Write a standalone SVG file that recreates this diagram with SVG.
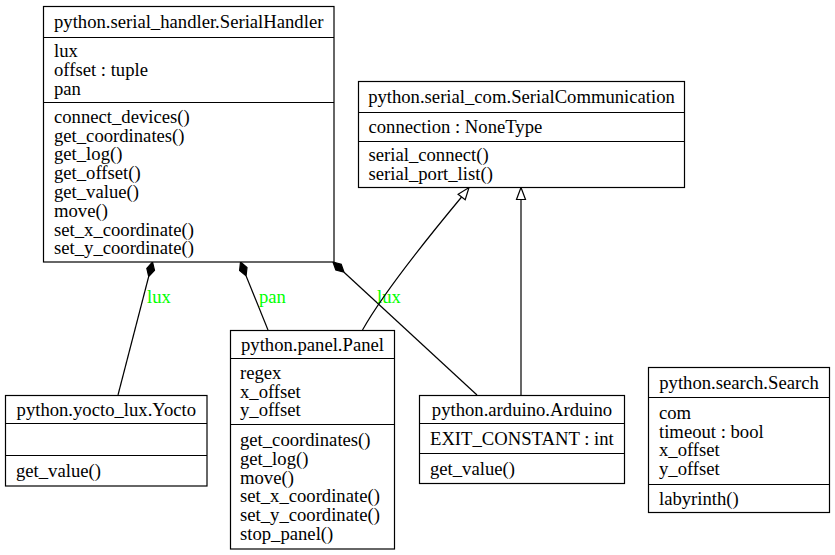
<svg xmlns="http://www.w3.org/2000/svg" width="835" height="555" viewBox="0 0 835 555">
<style>
  .box{fill:#fff;stroke:#000;stroke-width:1.2}
  .sep{stroke:#000;stroke-width:1.2}
  text{font-family:"Liberation Serif","Times New Roman",serif;font-size:18.67px;fill:#000}
  .h{text-anchor:middle}
  .lbl{fill:#00ff00}
  .edge{fill:none;stroke:#000;stroke-width:1.2}
  .dia{fill:#000;stroke:#000;stroke-width:1.2}
  .tri{fill:#fff;stroke:#000;stroke-width:1.2}
</style>
<rect width="835" height="555" fill="#fff"/>
<g id="connectors">
  <path class="edge" d="M148.7,276.5 L118,395"/>
  <polygon class="dia" points="152.5,262 154.5,270.3 148.7,276.5 146.8,268.3"/>
  <text class="lbl" x="147" y="303">lux</text>
  <path class="edge" d="M246.1,275.9 L268,330"/>
  <polygon class="dia" points="240.5,262 247,267.5 246.1,275.9 239.6,270.5"/>
  <text class="lbl" x="259" y="303">pan</text>
  <path class="edge" d="M344,272.2 L477,395"/>
  <polygon class="dia" points="333,262 341.2,264.2 344,272.2 335.8,270"/>
  <text class="lbl" x="377" y="303">lux</text>
  <path class="edge" d="M362.5,330 C385,290 430,235 461.6,197"/>
  <polygon class="tri" points="469,187.5 465.2,199.7 458.1,194.2"/>
  <path class="edge" d="M521,395 L521,199.5"/>
  <polygon class="tri" points="521,187.5 525.5,199.5 516.5,199.5"/>
</g>
<g id="SerialHandler">
  <rect class="box" x="43.5" y="6.5" width="290.5" height="255.5"/>
  <line class="sep" x1="43.5" y1="37.5" x2="334" y2="37.5"/>
  <line class="sep" x1="43.5" y1="102.5" x2="334" y2="102.5"/>
  <text class="h" x="188.7" y="28.2">python.serial_handler.SerialHandler</text>
  <text x="54" y="57.2">lux</text>
  <text x="54" y="76">offset : tuple</text>
  <text x="54" y="94.8">pan</text>
  <text x="54" y="122.7">connect_devices()</text>
  <text x="54" y="141.5">get_coordinates()</text>
  <text x="54" y="160.3">get_log()</text>
  <text x="54" y="179.1">get_offset()</text>
  <text x="54" y="197.9">get_value()</text>
  <text x="54" y="216.7">move()</text>
  <text x="54" y="235.5">set_x_coordinate()</text>
  <text x="54" y="254.3">set_y_coordinate()</text>
</g>
<g id="SerialCommunication">
  <rect class="box" x="358.5" y="81.5" width="326" height="106"/>
  <line class="sep" x1="358.5" y1="112.5" x2="684.5" y2="112.5"/>
  <line class="sep" x1="358.5" y1="141.5" x2="684.5" y2="141.5"/>
  <text class="h" x="521.5" y="103">python.serial_com.SerialCommunication</text>
  <text x="368.5" y="133">connection : NoneType</text>
  <text x="368.5" y="161.1">serial_connect()</text>
  <text x="368.5" y="179.9">serial_port_list()</text>
</g>
<g id="Yocto">
  <rect class="box" x="5.5" y="395.5" width="201.5" height="90.5"/>
  <line class="sep" x1="5.5" y1="423.5" x2="207" y2="423.5"/>
  <line class="sep" x1="5.5" y1="455.5" x2="207" y2="455.5"/>
  <text class="h" x="106.3" y="416">python.yocto_lux.Yocto</text>
  <text x="16" y="477">get_value()</text>
</g>
<g id="Panel">
  <rect class="box" x="230.5" y="330.5" width="164" height="218.5"/>
  <line class="sep" x1="230.5" y1="358.5" x2="394.5" y2="358.5"/>
  <line class="sep" x1="230.5" y1="424.5" x2="394.5" y2="424.5"/>
  <text class="h" x="312.5" y="351">python.panel.Panel</text>
  <text x="240" y="378.7">regex</text>
  <text x="240" y="397.5">x_offset</text>
  <text x="240" y="416.3">y_offset</text>
  <text x="240" y="446">get_coordinates()</text>
  <text x="240" y="464.8">get_log()</text>
  <text x="240" y="483.6">move()</text>
  <text x="240" y="502.4">set_x_coordinate()</text>
  <text x="240" y="521.2">set_y_coordinate()</text>
  <text x="240" y="540">stop_panel()</text>
</g>
<g id="Arduino">
  <rect class="box" x="419.5" y="395.5" width="205" height="88"/>
  <line class="sep" x1="419.5" y1="423.5" x2="624.5" y2="423.5"/>
  <line class="sep" x1="419.5" y1="453.5" x2="624.5" y2="453.5"/>
  <text class="h" x="522" y="416">python.arduino.Arduino</text>
  <text x="430" y="445">EXIT_CONSTANT : int</text>
  <text x="430" y="475">get_value()</text>
</g>
<g id="Search">
  <rect class="box" x="648.5" y="367.5" width="181" height="145"/>
  <line class="sep" x1="648.5" y1="397.5" x2="829.5" y2="397.5"/>
  <line class="sep" x1="648.5" y1="484.5" x2="829.5" y2="484.5"/>
  <text class="h" x="739" y="389">python.search.Search</text>
  <text x="659" y="418.8">com</text>
  <text x="659" y="437.6">timeout : bool</text>
  <text x="659" y="456.4">x_offset</text>
  <text x="659" y="475.2">y_offset</text>
  <text x="659" y="505">labyrinth()</text>
</g>
</svg>
